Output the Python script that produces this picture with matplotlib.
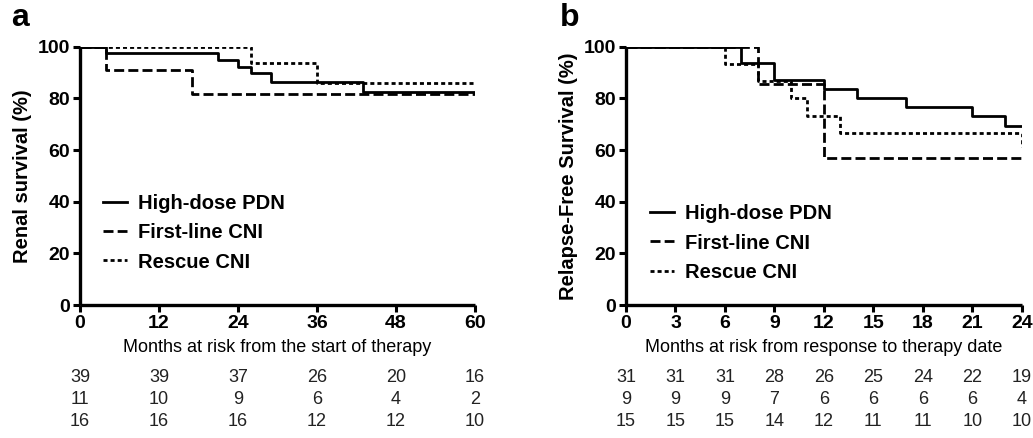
import matplotlib
matplotlib.use("Agg")
import matplotlib.pyplot as plt
import matplotlib.transforms as mtransforms

plt.rcParams['font.family'] = ['Liberation Sans', 'DejaVu Sans']

# ---- Panel a data ----
a_labels = ["High-dose PDN", "First-line CNI", "Rescue CNI"]
a_pdn_t = [0, 4, 21, 24, 26, 29, 43, 60]
a_pdn_s = [100, 97.4, 94.9, 92.3, 89.7, 86.5, 82.4, 82.4]
a_fl_t = [0, 4, 17, 60]
a_fl_s = [100, 90.9, 81.8, 81.8]
a_rs_t = [0, 26, 36, 60]
a_rs_s = [100, 93.75, 85.9, 85.9]
a_xticks = [0, 12, 24, 36, 48, 60]
a_risk = [[39, 39, 37, 26, 20, 16],
          [11, 10, 9, 6, 4, 2],
          [16, 16, 16, 12, 12, 10]]

# ---- Panel b data ----
b_pdn_t = [0, 7, 9, 12, 14, 17, 21, 23, 24]
b_pdn_s = [100, 93.5, 87.1, 83.6, 80.2, 76.8, 73.3, 69.4, 69.4]
b_fl_t = [0, 8, 12, 24]
b_fl_s = [100, 85.7, 57.1, 57.1]
b_rs_t = [0, 6, 8, 10, 11, 13, 24]
b_rs_s = [100, 93.3, 86.7, 80.0, 73.3, 66.7, 61.0]
b_xticks = [0, 3, 6, 9, 12, 15, 18, 21, 24]
b_risk = [[31, 31, 31, 28, 26, 25, 24, 22, 19],
          [9, 9, 9, 7, 6, 6, 6, 6, 4],
          [15, 15, 15, 14, 12, 11, 11, 10, 10]]

W, H = 1033, 438
fig = plt.figure(figsize=(W / 100, H / 100), dpi=100)

def rect(l, r, t, b):
    return [l / W, 1 - b / H, (r - l) / W, (b - t) / H]

styles = [dict(linestyle='-'),
          dict(linestyle=(0, (3.6, 1.5))),
          dict(linestyle=(0, (1.45, 1.1)))]

def panel(ax_rect, curves, xticks, risk, ylabel, xlabel, letter, letter_x, leg_x, leg_y):
    ax = fig.add_axes(ax_rect)
    for (t, s), st, lab in zip(curves, styles, a_labels):
        ax.step(t, s, where='post', color='black', lw=2.0, label=lab, **st)
    ax.set_xlim(xticks[0], xticks[-1])
    ax.set_ylim(0, 100)
    ax.set_xticks(xticks)
    ax.set_yticks([0, 20, 40, 60, 80, 100])
    for sp in ['top', 'right']:
        ax.spines[sp].set_visible(False)
    for sp in ['left', 'bottom']:
        ax.spines[sp].set_linewidth(2.4)
        ax.spines[sp].set_capstyle('butt')
    ax.tick_params(axis='both', direction='out', length=5, width=2.2,
                   labelsize=14, pad=2)
    for lbl in ax.get_xticklabels() + ax.get_yticklabels():
        lbl.set_fontweight('bold')
    ax.set_ylabel(ylabel, fontsize=14.5, fontweight='bold', labelpad=4)
    ax.set_xlabel(xlabel, fontsize=13, labelpad=5)
    ax.legend(loc='center left', bbox_to_anchor=(leg_x, leg_y), frameon=False,
              prop=dict(size=14.5, weight='bold'), handlelength=1.2,
              handletextpad=0.55, labelspacing=0.5, borderaxespad=0, borderpad=0)
    trans = mtransforms.blended_transform_factory(ax.transData, fig.transFigure)
    rows_y = [377, 399, 421]
    for row, yy in zip(risk, rows_y):
        for xv, n in zip(xticks, row):
            ax.text(xv, 1 - yy / H, str(n), transform=trans, ha='center',
                    va='center', fontsize=13, color='#222222')
    fig.text(letter_x / W, 1 - 18 / H, letter, fontsize=23, fontweight='bold',
             ha='left', va='center')
    return ax

panel(rect(80, 475, 46.7, 305),
      [(a_pdn_t, a_pdn_s), (a_fl_t, a_fl_s), (a_rs_t, a_rs_s)],
      a_xticks, a_risk, "Renal survival (%)",
      "Months at risk from the start of therapy", "a", 11, 0.058, 0.279)

panel(rect(626, 1021.7, 46.7, 305),
      [(b_pdn_t, b_pdn_s), (b_fl_t, b_fl_s), (b_rs_t, b_rs_s)],
      b_xticks, b_risk, "Relapse-Free Survival (%)",
      "Months at risk from response to therapy date", "b", 560, 0.061, 0.240)

fig.savefig("out.png", dpi=100)
